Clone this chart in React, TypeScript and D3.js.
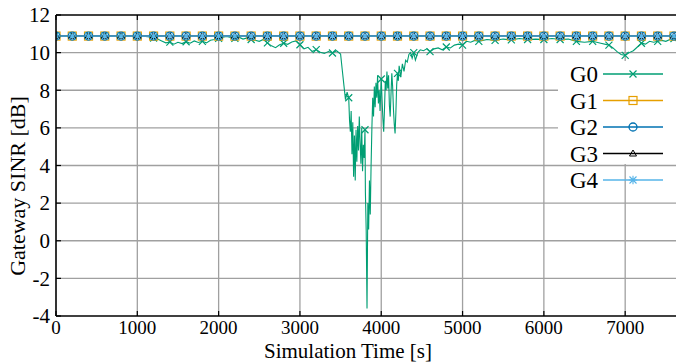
import React from "react";
import * as d3 from "d3";

// x axis / y axis ticks
const timeTicks = [0, 1000, 2000, 3000, 4000, 5000, 6000, 7000];
const sinrTicks = [-4, -2, 0, 2, 4, 6, 8, 10, 12];
const gatewayNames = ["G0", "G1", "G2", "G3", "G4"];
const gatewayColors = ["#009e73", "#e69f00", "#0072b2", "#000000", "#56b4e9"];

// G0 (noisy gateway)
const g0Time = [
  0, 200, 400, 600, 800, 1000, 1100, 1150, 1200, 1250, 1300, 1350, 1400, 1450, 1500, 1550, 1600, 1650,
  1700, 1750, 1800, 1850, 1900, 1950, 2000, 2050, 2100, 2150, 2200, 2250, 2300, 2350, 2400, 2450, 2500,
  2550, 2600, 2650, 2700, 2750, 2800, 2850, 2900, 2950, 3000, 3050, 3100, 3150, 3200, 3250, 3300, 3350,
  3400, 3450, 3500, 3520, 3540, 3560, 3580, 3600, 3610, 3620, 3630, 3640, 3650, 3660, 3670, 3680, 3690,
  3700, 3710, 3720, 3730, 3740, 3750, 3760, 3770, 3780, 3790, 3800, 3805, 3815, 3825, 3835, 3845, 3855,
  3865, 3875, 3885, 3895, 3905, 3915, 3925, 3935, 3945, 3955, 3965, 3975, 3985, 4000, 4010, 4020, 4030,
  4040, 4050, 4060, 4070, 4080, 4090, 4100, 4110, 4120, 4130, 4140, 4150, 4160, 4170, 4180, 4190, 4200,
  4210, 4220, 4240, 4260, 4280, 4300, 4320, 4340, 4360, 4380, 4400, 4420, 4450, 4480, 4520, 4560, 4600,
  4650, 4700, 4750, 4800, 4850, 4900, 4950, 5000, 5050, 5100, 5150, 5200, 5300, 5400, 5500, 5600, 5700,
  5800, 5900, 6000, 6100, 6200, 6300, 6400, 6500, 6600, 6700, 6800, 6850, 6900, 6950, 7000, 7050, 7100,
  7150, 7200, 7250, 7300, 7350, 7400, 7450, 7500, 7550, 7600, 7620,
];
const g0Sinr = [
  10.9, 10.9, 10.9, 10.9, 10.9, 10.88, 10.86, 10.83, 10.78, 10.72, 10.62, 10.52, 10.56, 10.45, 10.55, 10.48, 10.58, 10.5,
  10.62, 10.54, 10.6, 10.52, 10.66, 10.7, 10.76, 10.82, 10.86, 10.8, 10.76, 10.82, 10.72, 10.78, 10.7, 10.66, 10.6,
  10.7, 10.52, 10.36, 10.26, 10.42, 10.5, 10.44, 10.56, 10.62, 10.42, 10.2, 10.28, 10.06, 10.16, 10.02, 9.96, 10.06,
  9.98, 10.1, 9.92, 9.1, 8.3, 7.5, 7.9, 7.6, 6.4, 5.8, 6.9, 4.6, 6.3, 3.4, 5.6, 3.2, 5.9,
  4.2, 6.1, 4.8, 6.6, 5.2, 4.1, 6.0, 3.7, 5.1, 4.4, 5.9, 2.6, 0.5, -3.6, 2.0, 0.6, 3.2,
  1.4, 4.0, 6.0, 7.6, 6.6, 8.2, 7.1, 8.4, 7.6, 8.8, 7.3, 8.0, 6.9, 8.6, 7.5, 6.5, 5.8,
  7.0, 8.5, 8.0, 9.0, 8.1, 8.8, 7.2, 6.6, 7.8, 8.9, 8.2, 7.0, 6.2, 5.7, 6.8, 8.3, 8.9,
  8.5, 9.3, 8.7, 9.4, 9.0, 9.6, 9.5, 9.9, 10.0, 9.7, 10.0, 9.6, 10.0, 10.15, 10.1, 10.2, 10.05,
  10.2, 10.25, 10.15, 10.3, 10.25, 10.4, 10.45, 10.4, 10.6, 10.55, 10.65, 10.6, 10.7, 10.65, 10.72, 10.68, 10.75,
  10.7, 10.72, 10.7, 10.75, 10.7, 10.72, 10.6, 10.55, 10.6, 10.5, 10.4, 10.25, 10.05, 9.9, 9.85, 10.0, 10.1,
  10.3, 10.5, 10.45, 10.6, 10.55, 10.6, 10.65, 10.6, 10.7, 10.75, 10.8,
];

// G1..G4 (steady gateways)
const steadyTime = [
  0, 200, 400, 600, 800, 1000, 1200, 1400, 1600, 1800, 2000, 2200, 2400, 2600, 2800, 3000, 3200, 3400, 3600, 3800,
  4000, 4200, 4400, 4600, 4800, 5000, 5200, 5400, 5600, 5800, 6000, 6200, 6400, 6600, 6800, 7000, 7200, 7400, 7600,
];
const g1Sinr = [
  10.88, 10.88, 10.88, 10.88, 10.88, 10.88, 10.88, 10.88, 10.88, 10.88, 10.88, 10.88, 10.88, 10.88, 10.88, 10.88, 10.88, 10.88, 10.88, 10.88,
  10.88, 10.88, 10.88, 10.88, 10.88, 10.88, 10.88, 10.88, 10.88, 10.88, 10.88, 10.88, 10.88, 10.88, 10.88, 10.88, 10.88, 10.88, 10.88,
];
const g2Sinr = [
  10.88, 10.88, 10.88, 10.88, 10.88, 10.88, 10.88, 10.88, 10.88, 10.88, 10.88, 10.88, 10.88, 10.88, 10.88, 10.88, 10.88, 10.88, 10.88, 10.88,
  10.88, 10.88, 10.88, 10.88, 10.88, 10.88, 10.88, 10.88, 10.88, 10.88, 10.88, 10.88, 10.88, 10.88, 10.88, 10.88, 10.88, 10.88, 10.88,
];
const g3Sinr = [
  10.89, 10.89, 10.89, 10.89, 10.89, 10.89, 10.89, 10.89, 10.89, 10.89, 10.89, 10.89, 10.89, 10.89, 10.89, 10.89, 10.89, 10.89, 10.89, 10.89,
  10.89, 10.89, 10.89, 10.89, 10.89, 10.89, 10.89, 10.89, 10.89, 10.89, 10.89, 10.89, 10.89, 10.89, 10.89, 10.89, 10.89, 10.89, 10.89,
];
const g4Sinr = [
  10.88, 10.88, 10.88, 10.88, 10.88, 10.88, 10.88, 10.88, 10.88, 10.88, 10.88, 10.88, 10.88, 10.88, 10.88, 10.88, 10.88, 10.88, 10.88, 10.88,
  10.88, 10.88, 10.88, 10.88, 10.88, 10.88, 10.88, 10.88, 10.88, 10.88, 10.88, 10.88, 10.88, 10.88, 10.88, 10.88, 10.88, 10.88, 10.88,
];

const W = 676;
const H = 363;
const left = 56;
const top = 15;
const bottom = 316;
const right = 676;
const font = "Liberation Serif, DejaVu Serif, serif";

type Pt = { t: number; v: number };

function Marker({ kind, x, y, color }: { kind: number; x: number; y: number; color: string }) {
  if (kind === 0) {
    const s = 3.5;
    return <path d={`M${x - s},${y - s}L${x + s},${y + s}M${x - s},${y + s}L${x + s},${y - s}`} stroke={color} strokeWidth={1.2} fill="none" />;
  }
  if (kind === 1) {
    return <rect x={x - 4} y={y - 4} width={8} height={8} stroke={color} strokeWidth={1.2} fill="none" />;
  }
  if (kind === 2) {
    return <circle cx={x} cy={y} r={4} stroke={color} strokeWidth={1.3} fill="none" />;
  }
  if (kind === 3) {
    return <path d={`M${x},${y - 3.5}L${x + 3.5},${y + 2.5}L${x - 3.5},${y + 2.5}Z`} stroke={color} strokeWidth={1} fill="none" />;
  }
  const s = 3.5;
  return (
    <path
      d={`M${x - s},${y - s}L${x + s},${y + s}M${x - s},${y + s}L${x + s},${y - s}M${x},${y - s * 1.2}L${x},${y + s * 1.2}M${x - s * 1.2},${y}L${x + s * 1.2},${y}`}
      stroke={color}
      strokeWidth={1.1}
      fill="none"
    />
  );
}

export default function App() {
  const x = d3.scaleLinear().domain([0, 7625]).range([left, right]);
  const y = d3.scaleLinear().domain([-4, 12]).range([bottom, top]);

  const series: Pt[][] = [
    g0Time.map((t, i) => ({ t, v: g0Sinr[i] })),
    steadyTime.map((t, i) => ({ t, v: g1Sinr[i] })),
    steadyTime.map((t, i) => ({ t, v: g2Sinr[i] })),
    steadyTime.map((t, i) => ({ t, v: g3Sinr[i] })),
    steadyTime.map((t, i) => ({ t, v: g4Sinr[i] })),
  ];
  // steady lines run to the right edge
  for (let k = 1; k < 5; k++) series[k].push({ t: 7625, v: series[k][series[k].length - 1].v });

  const line = d3
    .line<Pt>()
    .x((d) => x(d.t))
    .y((d) => y(d.v));

  const legendRows = [74, 100.5, 127, 153.5, 180];

  return (
    <svg width={W} height={H} style={{ position: "absolute", left: 0, top: 0, background: "#fff", fontFamily: font }}>
      <defs>
        <clipPath id="plot">
          <rect x={left} y={top - 6} width={right - left} height={bottom - top + 6} />
        </clipPath>
      </defs>
      <rect width={W} height={H} fill="#fff" />
      {/* grid */}
      {timeTicks.slice(1).map((t) => (
        <line key={"gx" + t} x1={x(t)} x2={x(t)} y1={top} y2={bottom} stroke="#a0a0a0" strokeWidth={1.3} />
      ))}
      {sinrTicks.slice(1, -1).map((v) => (
        <line key={"gy" + v} x1={left} x2={right} y1={y(v)} y2={y(v)} stroke="#a0a0a0" strokeWidth={1.3} />
      ))}
      {/* series */}
      <g clipPath="url(#plot)">
        {series.map((s, k) => (
          <path key={"l" + k} d={line(s) || ""} fill="none" stroke={gatewayColors[k]} strokeWidth={k === 0 ? 1.1 : 1.4} />
        ))}
        {series.map((s, k) =>
          s
            .filter((d) => d.t % 200 === 0)
            .map((d, i) => <Marker key={"m" + k + "-" + i} kind={k} x={x(d.t)} y={y(d.v)} color={gatewayColors[k]} />)
        )}
      </g>
      {/* legend */}
      <rect x={558} y={61} width={W - 558} height={103} fill="#fff" />
      {gatewayNames.map((name, k) => (
        <g key={name}>
          <text x={598} y={legendRows[k]} dy="0.35em" textAnchor="end" fontSize={23}>
            {name}
          </text>
          <line x1={603} x2={663} y1={legendRows[k]} y2={legendRows[k]} stroke={gatewayColors[k]} strokeWidth={1.4} />
          <Marker kind={k} x={633} y={legendRows[k]} color={gatewayColors[k]} />
        </g>
      ))}
      {/* border and ticks */}
      <line x1={left} x2={right} y1={top} y2={top} stroke="#000" strokeWidth={1.5} />
      <line x1={left} x2={right} y1={bottom} y2={bottom} stroke="#000" strokeWidth={1.6} />
      <line x1={left} x2={left} y1={top} y2={bottom} stroke="#000" strokeWidth={1.6} />
      {timeTicks.map((t) => (
        <g key={"tx" + t}>
          <line x1={x(t)} x2={x(t)} y1={bottom} y2={bottom - 5} stroke="#000" strokeWidth={1.2} />
          <line x1={x(t)} x2={x(t)} y1={top} y2={top + 5} stroke="#000" strokeWidth={1.2} />
          <text x={x(t)} y={bottom + 18} textAnchor="middle" fontSize={19}>
            {t}
          </text>
        </g>
      ))}
      {sinrTicks.map((v) => (
        <g key={"ty" + v}>
          <line x1={left} x2={left + 5} y1={y(v)} y2={y(v)} stroke="#000" strokeWidth={1.2} />
          <text x={50} y={y(v)} dy="0.35em" textAnchor="end" fontSize={21}>
            {v}
          </text>
        </g>
      ))}
      <text x={348} y={358} textAnchor="middle" fontSize={21}>
        Simulation Time [s]
      </text>
      <text transform={`translate(25,186) rotate(-90)`} textAnchor="middle" fontSize={22}>
        Gateway SINR [dB]
      </text>
    </svg>
  );
}
